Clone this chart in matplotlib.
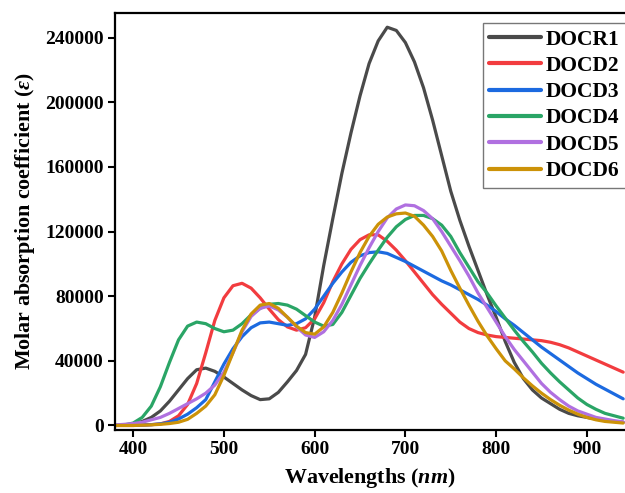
import matplotlib
matplotlib.use("Agg")
import matplotlib.pyplot as plt
import numpy as np

wavelength = list(range(380, 950, 10))

docr1 = [0, 200, 1000, 2500, 5000, 9000, 15000, 22000, 29000, 34500,
         35500, 33500, 30000, 26000, 22000, 18500, 16000, 16500, 20500, 27000,
         34000, 44000, 67000, 99000, 128000, 156000, 181000, 204000, 224000, 238000,
         246500, 244500, 237000, 225000, 209000, 189000, 167000, 145000, 127000, 111000,
         96000, 81000, 67000, 52000, 39000, 29000, 22000, 17000, 13500, 10000,
         7500, 6000, 5000, 4000, 3000, 2500, 2000]

docd2 = [0, 0, 0, 200, 500, 1000, 2500, 6000, 13000, 26000,
         45000, 65000, 79000, 86500, 88000, 85000, 79000, 72000, 65500, 61000,
         59000, 60500, 66000, 76000, 89000, 100000, 109000, 115000, 118000, 118000,
         114000, 108500, 102000, 95000, 88000, 81000, 75000, 69500, 64000, 60000,
         57500, 56000, 55000, 54500, 54000, 53500, 53000, 52500, 51500, 50000,
         48000, 45500, 43000, 40500, 38000, 35500, 33000]

docd3 = [0, 100, 200, 300, 500, 1000, 2000, 4000, 7000, 11000,
         16000, 27000, 38000, 47500, 55000, 60500, 63500, 64000, 63000, 62000,
         63000, 66000, 72000, 80000, 88000, 95000, 101000, 105000, 107000, 107500,
         106500, 104000, 101500, 98500, 95500, 92500, 89500, 87000, 84000, 81000,
         78000, 74500, 70500, 66000, 62000, 57500, 53000, 48500, 44500, 40500,
         36500, 32500, 29000, 25500, 22500, 19500, 16500]

docd4 = [0, 300, 1500, 5000, 12000, 24000, 39000, 53000, 61500, 64000,
         63000, 60000, 58000, 59000, 63000, 68500, 72500, 75000, 75500, 74500,
         72000, 68000, 64000, 61500, 62500, 70000, 80500, 91000, 100000, 108500,
         116500, 123000, 127500, 130000, 130000, 128000, 124000, 117000, 107000, 98000,
         89000, 82000, 74000, 66500, 59000, 52000, 45500, 38500, 32500, 27000,
         22000, 17000, 13000, 10000, 7500, 6000, 4500]

docd5 = [300, 700, 1200, 2000, 3500, 5000, 7500, 10500, 13500, 16500,
         20000, 25000, 33000, 45000, 58000, 67500, 72500, 74000, 71500, 67000,
         61000, 56000, 54500, 58000, 65000, 75000, 87000, 99000, 110000, 120000,
         128500, 134000, 136500, 136000, 133000, 128000, 120000, 111000, 102000, 92500,
         82000, 73000, 64000, 55000, 47000, 40000, 33000, 26000, 20500, 16000,
         12000, 9000, 7000, 5000, 4000, 3000, 2200]

docd6 = [0, 0, 0, 200, 400, 700, 1200, 2000, 3800, 7500,
         12000, 19000, 31000, 45000, 59000, 69000, 74500, 75500, 72500, 67000,
         61500, 57500, 56500, 61000, 70000, 82000, 95000, 107000, 117000, 124500,
         129000, 131000, 131500, 129500, 124000, 117000, 108000, 96000, 85000, 74500,
         64500, 55500, 47500, 40000, 35000, 29500, 24500, 20000, 16000, 12500,
         9500, 7000, 5000, 3500, 2500, 2000, 1500]

series_names = ["DOCR1", "DOCD2", "DOCD3", "DOCD4", "DOCD5", "DOCD6"]
series_values = [docr1, docd2, docd3, docd4, docd5, docd6]
colors = ["#4a4a4a", "#f23c3f", "#1c6ae0", "#2aa566", "#b070e0", "#cc9208"]

xticks = [400, 500, 600, 700, 800, 900]
yticks = [0, 40000, 80000, 120000, 160000, 200000, 240000]

plt.rcParams['font.family'] = ['Liberation Serif', 'DejaVu Serif']
plt.rcParams['font.weight'] = 'bold'
plt.rcParams['mathtext.fontset'] = 'custom'
plt.rcParams['mathtext.rm'] = 'Liberation Serif:bold'
plt.rcParams['mathtext.it'] = 'Liberation Serif:italic:bold'
plt.rcParams['mathtext.bf'] = 'Liberation Serif:bold'

fig = plt.figure(figsize=(6.25, 4.93), dpi=100)
ax = fig.add_axes([115/625, 1-430/493, 1-115/625, (430-13)/493])

for name, vals, c in zip(series_names, series_values, colors):
    ax.plot(wavelength, vals, color=c, lw=2.3, label=name,
            solid_capstyle='round', solid_joinstyle='round')

ax.set_xlim(380, 942)
ax.set_ylim(-2800, 255300)
ax.set_xticks(xticks)
ax.set_yticks(yticks)
ax.set_xticklabels([str(t) for t in xticks])
ax.set_yticklabels([str(t) for t in yticks])
ax.tick_params(direction='out', length=5, width=1.5, labelsize=14, pad=3)
for lab in ax.get_xticklabels() + ax.get_yticklabels():
    lab.set_fontweight('bold')
for s in ['left', 'bottom', 'top']:
    ax.spines[s].set_linewidth(1.6)
ax.spines['right'].set_visible(False)

ax.set_xlabel(r'Wavelengths ($nm$)', fontsize=15.8, fontweight='bold', labelpad=6)
ax.set_ylabel(r'Molar absorption coefficient ($\varepsilon$)', fontsize=15.8, fontweight='bold', labelpad=6)

leg = fig.legend(loc='upper left', bbox_to_anchor=(483/625, 1-23/493),
                 bbox_transform=fig.transFigure, frameon=True, fancybox=False,
                 fontsize=15.5, handlelength=2.4, handletextpad=0.2,
                 labelspacing=0.29, borderpad=0.3, borderaxespad=0)
leg.get_frame().set_edgecolor('#555555')
leg.get_frame().set_linewidth(1.0)
for t in leg.get_texts():
    t.set_fontweight('bold')
for l in leg.get_lines():
    l.set_linewidth(3)

fig.savefig('out.png', dpi=100)
